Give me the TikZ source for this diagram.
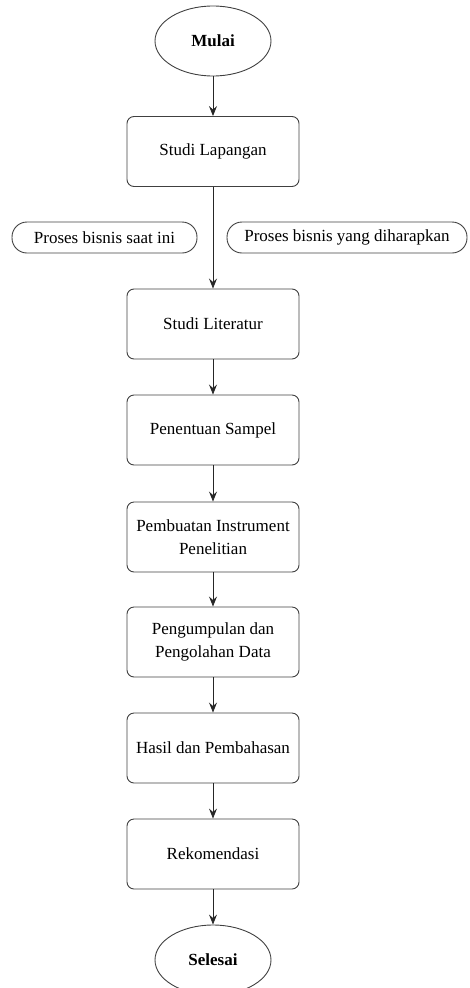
\documentclass[tikz,border=0pt]{standalone}
\usepackage{fontspec}
\setmainfont{Liberation Serif}
\usetikzlibrary{%
  arrows.meta,shapes.geometric}
\tikzset {>={Stealth[length=10pt,width=8pt,inset=3.5pt]}}
\tikzset{
  terminal/.style={draw=black!75,line width=0.9pt,ellipse,
    minimum width=116pt,minimum height=70pt,
    font=\fontsize{17}{21}\selectfont\bfseries},
  stepbox/.style={draw=black!75,line width=0.9pt,rounded corners=7pt,
    minimum width=172pt,minimum height=70pt,align=center,
    font=\fontsize{17}{23}\selectfont},
  pill/.style={draw=black!75,line width=0.9pt,rounded corners=15pt,
    minimum height=31pt,font=\fontsize{17}{21}\selectfont},
  flow/.style={->,draw=black!85,line width=0.9pt}
}

\begin{document}
\begin{tikzpicture}[x=1pt,y=-1pt]
\useasboundingbox (0,0) rectangle (469,988);
\node[terminal] (mulai) at (213,41) {Mulai};
\node[stepbox] (lapangan) at (213,151.5) {Studi Lapangan};
\node[pill,minimum width=185pt] (saatini) at (104.5,237.5)
  {Proses bisnis saat ini};
\node[pill,minimum width=240pt] (harapan) at (347,237.5)
  {Proses bisnis yang diharapkan};
\node[stepbox] (literatur) at (213,324) {Studi Literatur};
\node[stepbox] (sampel) at (213,430) {Penentuan Sampel};
\node[stepbox] (instrumen) at (213,537)
  {Pembuatan Instrument\\Penelitian};
\node[stepbox] (olahdata) at (213,642)
  {Pengumpulan dan\\Pengolahan Data};
\node[stepbox] (hasil) at (213,748) {Hasil dan Pembahasan};
\node[stepbox] (rekomendasi) at (213,854) {Rekomendasi};
\node[terminal] (selesai) at (213,960) {Selesai};
% alur
\draw[flow] (mulai) -- (lapangan);
\draw[flow] (lapangan) -- (literatur);
\draw[flow] (literatur) -- (sampel);
\draw[flow] (sampel) -- (instrumen);
\draw[flow] (instrumen) -- (olahdata);
\draw[flow] (olahdata) -- (hasil);
\draw[flow] (hasil) -- (rekomendasi);
\draw[flow] (rekomendasi) -- (selesai);
\end{tikzpicture}
\end{document}
